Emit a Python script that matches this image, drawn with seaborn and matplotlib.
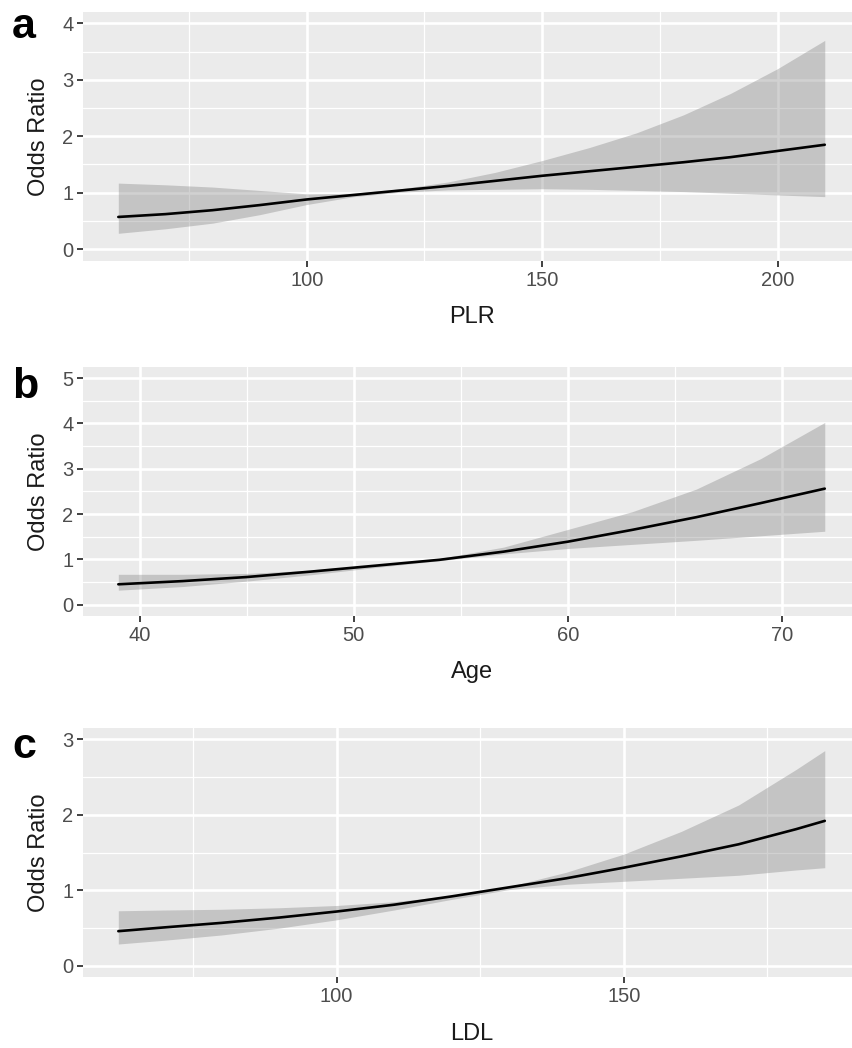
import numpy as np
import pandas as pd
import matplotlib
matplotlib.use("Agg")
import matplotlib.pyplot as plt
import seaborn as sns
from matplotlib.ticker import FixedLocator

# ---------------- data ----------------
plr_x = [60, 70, 80, 90, 100, 110, 120, 130, 140, 150, 160, 170, 180, 190, 200, 210]
plr_or = [0.57, 0.62, 0.69, 0.78, 0.88, 0.96, 1.04, 1.12, 1.21, 1.30, 1.38, 1.46, 1.54, 1.63, 1.74, 1.85]
plr_hi = [1.17, 1.14, 1.10, 1.04, 0.98, 0.99, 1.07, 1.19, 1.36, 1.57, 1.80, 2.06, 2.38, 2.76, 3.20, 3.70]
plr_lo = [0.28, 0.36, 0.46, 0.61, 0.79, 0.93, 1.01, 1.05, 1.06, 1.07, 1.06, 1.04, 1.02, 0.99, 0.96, 0.93]

age_x = [39, 42, 45, 48, 51, 54, 57, 60, 63, 66, 69, 72]
age_or = [0.45, 0.52, 0.61, 0.73, 0.86, 0.99, 1.17, 1.39, 1.65, 1.93, 2.24, 2.56]
age_hi = [0.67, 0.67, 0.69, 0.76, 0.88, 1.02, 1.27, 1.66, 2.05, 2.55, 3.22, 4.02]
age_lo = [0.32, 0.40, 0.52, 0.66, 0.82, 0.97, 1.12, 1.24, 1.33, 1.42, 1.52, 1.62]

ldl_x = [62, 70, 80, 90, 100, 110, 120, 130, 140, 150, 160, 170, 180, 185]
ldl_or = [0.46, 0.51, 0.57, 0.64, 0.72, 0.81, 0.92, 1.04, 1.16, 1.30, 1.45, 1.61, 1.81, 1.92]
ldl_hi = [0.73, 0.74, 0.75, 0.77, 0.80, 0.85, 0.93, 1.05, 1.24, 1.48, 1.78, 2.13, 2.60, 2.85]
ldl_lo = [0.29, 0.34, 0.41, 0.50, 0.61, 0.74, 0.88, 1.01, 1.08, 1.12, 1.16, 1.20, 1.27, 1.30]

panel_letters = ["a", "b", "c"]
x_labels = ["PLR", "Age", "LDL"]
y_label = "Odds Ratio"
x_major = [[100, 150, 200], [40, 50, 60, 70], [100, 150]]
x_minor = [[75, 125, 175], [45, 55, 65], [75, 125, 175]]
y_major = [[0, 1, 2, 3, 4], [0, 1, 2, 3, 4, 5], [0, 1, 2, 3]]
y_minor = [[0.5, 1.5, 2.5, 3.5], [0.5, 1.5, 2.5, 3.5, 4.5], [0.5, 1.5, 2.5]]

# ---------------- style ----------------
sns.set_theme(style="darkgrid")
plt.rcParams["font.family"] = ["Liberation Sans", "DejaVu Sans"]

fig = plt.figure(figsize=(8.53, 10.48), dpi=100)
fig.patch.set_facecolor("white")

positions = [
    [0.0973, 0.7510, 0.911, 0.2379],
    [0.0973, 0.4122, 0.911, 0.2379],
    [0.0973, 0.0675, 0.911, 0.2379],
]
xlims = [(52.5, 217.5), (37.35, 73.65), (55.85, 191.15)]
ylims = [(-0.21, 4.21), (-0.25, 5.25), (-0.15, 3.15)]
letter_baselines = [38, 398, 758]

datasets = [
    (plr_x, plr_or, plr_lo, plr_hi),
    (age_x, age_or, age_lo, age_hi),
    (ldl_x, ldl_or, ldl_lo, ldl_hi),
]

for i, (xs, ors, lo, hi) in enumerate(datasets):
    ax = fig.add_axes(positions[i])
    ax.set_facecolor("#EBEBEB")
    df = pd.DataFrame({"x": xs, "or": ors, "lo": lo, "hi": hi})
    ax.fill_between(df["x"], df["lo"], df["hi"], color="#808080", alpha=0.36,
                    linewidth=0, zorder=2)
    sns.lineplot(data=df, x="x", y="or", ax=ax, color="black", linewidth=1.9,
                 zorder=3)
    ax.set_xlim(*xlims[i])
    ax.set_ylim(*ylims[i])

    ax.xaxis.set_major_locator(FixedLocator(x_major[i]))
    ax.xaxis.set_minor_locator(FixedLocator(x_minor[i]))
    ax.yaxis.set_major_locator(FixedLocator(y_major[i]))
    ax.yaxis.set_minor_locator(FixedLocator(y_minor[i]))
    ax.set_xticklabels([str(v) for v in x_major[i]])
    ax.set_yticklabels([str(v) for v in y_major[i]])

    ax.grid(which="major", color="white", linewidth=1.9, zorder=0)
    ax.grid(which="minor", color="white", linewidth=0.9, zorder=0)
    ax.set_axisbelow(True)
    for s in ax.spines.values():
        s.set_visible(False)

    ax.tick_params(which="major", length=4, width=1.3, color="#333333",
                   labelsize=14.5, labelcolor="#4D4D4D", pad=3,
                   bottom=True, left=True, direction="out")
    ax.tick_params(which="minor", length=0)

    ax.set_xlabel(x_labels[i], fontsize=17, color="#1A1A1A", labelpad=12)
    ax.set_ylabel(y_label, fontsize=17, color="#1A1A1A", labelpad=9)

    fig.text(12 / 853, 1 - letter_baselines[i] / 1048, panel_letters[i],
             fontsize=31, fontweight="bold", color="black",
             ha="left", va="baseline")

fig.savefig("out.png", dpi=100, facecolor="white")
